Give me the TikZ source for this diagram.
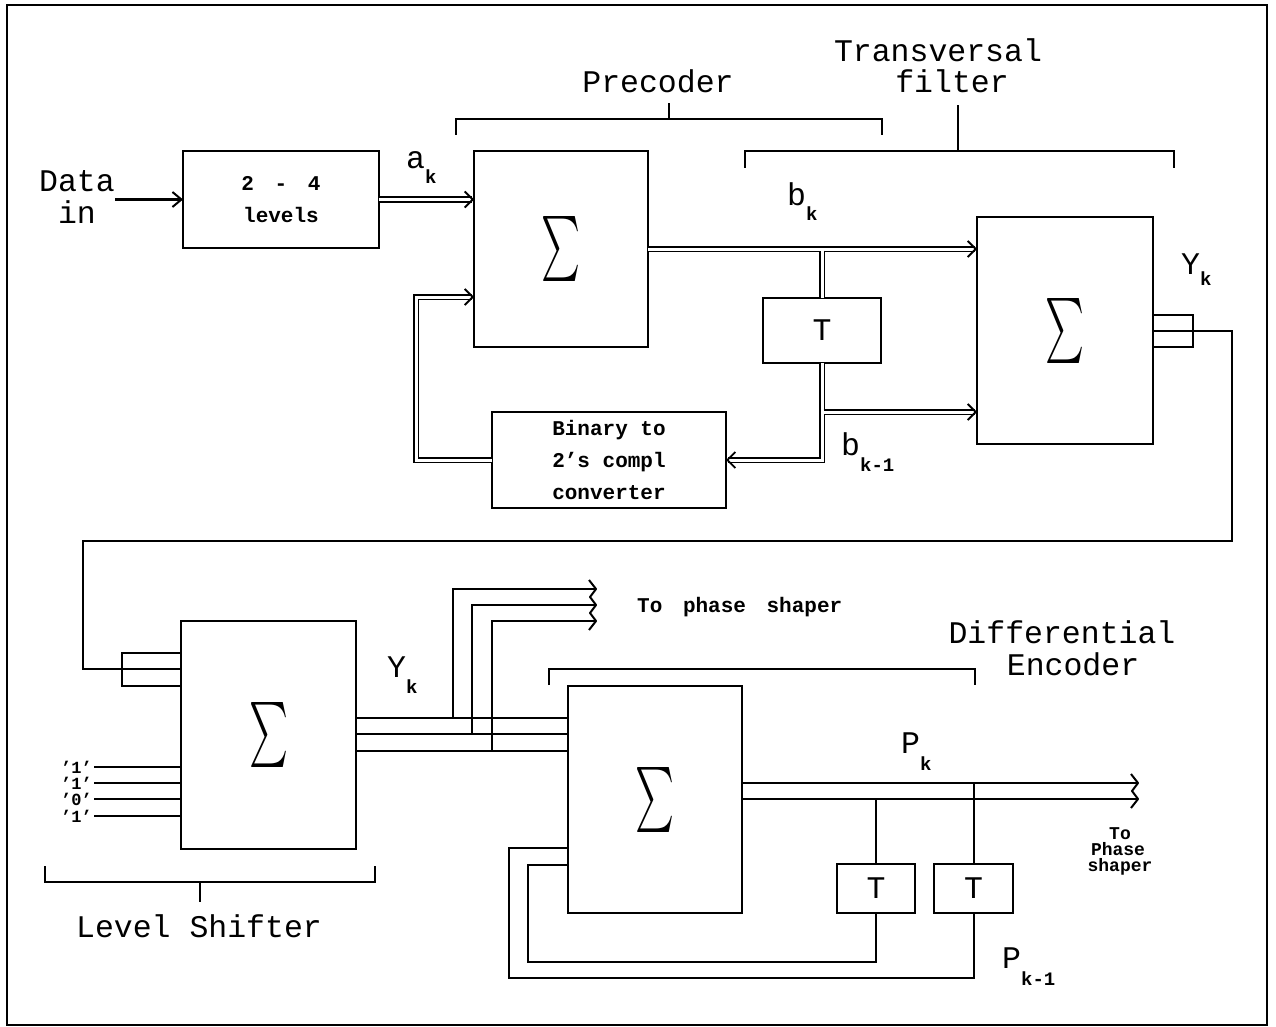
\documentclass[tikz,border=0pt]{standalone}
\usepackage{fontspec}
\usepackage{graphicx}
\setmainfont{Liberation Mono}
\usetikzlibrary{arrows.meta,calc}
\newcommand\sigm{\resizebox*{39pt}{65pt}{$\sum$}}
\newcommand\subsc[2]{\raisebox{-#2pt}{\fontsize{19}{19}\selectfont\bfseries #1}}
\begin{document}
\begin{tikzpicture}[x=1pt,y=-1pt,
  blk/.style={draw, line width=2pt, inner sep=0pt, outer sep=0pt},
  wire/.style={line width=2pt},
  dbl/.style={double, double distance=3pt, line width=1.8pt},
  dbla/.style={dbl, -{Straight Barb[length=8pt,width=16pt,line width=1.8pt]}},
  sarr/.style={wire, -{Straight Barb[length=9pt,width=15pt]}},
  big/.style={font=\fontsize{31.5}{32}\selectfont, inner sep=0pt, anchor=base},
  small/.style={font=\fontsize{21}{32}\selectfont\bfseries, align=center},
  tiny/.style={font=\fontsize{18}{16}\selectfont\bfseries, inner sep=0pt, anchor=base},
  inl/.style={font=\fontsize{17}{16}\selectfont\bfseries, inner sep=0pt, anchor=base east},
  lab/.style={font=\fontsize{31.5}{32}\selectfont, inner sep=0pt, anchor=base west},
  tfont/.style={font=\fontsize{31.5}{32}\selectfont},
  chev/.style={wire, line join=round},
]
\useasboundingbox (0,0) rectangle (1276,1027);
\draw[line width=2.5pt] (7,5) rectangle (1267,1025);

% ---------- blocks ----------
\node[blk, minimum width=196pt, minimum height=97pt, small] (conv24) at (281,199.5) {2\hspace{8pt} -\hspace{8pt} 4\\levels};
\node[blk, minimum width=174pt, minimum height=196pt] (psum) at (561,249) {\sigm};
\node[blk, minimum width=118pt, minimum height=65pt, tfont] (pt) at (822,330.5) {T};
\node[blk, minimum width=234pt, minimum height=96pt, small] (bconv) at (609,460) {Binary to\\2’s compl\\converter};
\node[blk, minimum width=176pt, minimum height=227pt] (tsum) at (1065,330.5) {\sigm};
\node[blk, minimum width=175pt, minimum height=228pt] (lsum) at (268.5,735) {\sigm};
\node[blk, minimum width=174pt, minimum height=227pt] (dsum) at (655,799.5) {\sigm};
\node[blk, minimum width=78pt, minimum height=49pt, tfont] (dt1) at (876,888.5) {T};
\node[blk, minimum width=79pt, minimum height=49pt, tfont] (dt2) at (973.5,888.5) {T};

% ---------- texts ----------
\node[big] (dat) at (77,192) {Data};
\node[big] (din) at (77,223) {in};
\node[big] (prec) at (658,93) {Precoder};
\node[big] (trans) at (938,62) {Transversal};
\node[big] (filt) at (952,93) {filter};
\node[big] (lev) at (199,937) {Level Shifter};
\node[big] (diff) at (1062,643) {Differential};
\node[big] (enc) at (1073,675) {Encoder};
\node[font=\fontsize{21}{21}\selectfont\bfseries, inner sep=0pt, anchor=base west] (tps) at (637,612) {To\hspace{8pt} phase\hspace{8pt} shaper};
\node[tiny] (tpa) at (1120,839) {To};
\node[tiny] (tpb) at (1118,855) {Phase};
\node[tiny] (tpc) at (1120,871) {shaper};

\node[lab] (ak) at (406,168) {a\subsc{k}{15}};
\node[lab] (bk) at (787,205) {b\subsc{k}{15}};
\node[lab] (ykt) at (1181,274) {Y\subsc{k}{11}};
\node[lab] (ykl) at (387,677) {Y\subsc{k}{16}};
\node[lab] (pk) at (901,753) {P\subsc{k}{17}};
\node[lab] (bk1) at (841,455) {b\subsc{k-1}{16}};
\node[lab] (pk1) at (1002,968) {P\subsc{k-1}{17}};

\node[inl] (i1) at (92,773) {’1’};
\node[inl] (i2) at (92,789) {’1’};
\node[inl] (i3) at (92,805) {’0’};
\node[inl] (i4) at (92,822) {’1’};
\foreach \n in {i1,i2,i3,i4} \draw[wire] ([xshift=2pt]\n.east) -- (lsum.west |- \n.east);

% ---------- brackets ----------
\draw[wire] (456,135) -- (456,119) -- (882,119) -- (882,135);
\draw[wire] (669,119) -- (669,103);
\draw[wire] (745,168) -- (745,151) -- (1174,151) -- (1174,168);
\draw[wire] (958,151) -- (958,105);
\draw[wire] (45,866) -- (45,882) -- (375,882) -- (375,866);
\draw[wire] (200,882) -- (200,902);
\draw[wire] (549,685) -- (549,669) -- (975,669) -- (975,685);

% ---------- upper connectors ----------
\draw[sarr] (dat.east |- conv24.west) -- (conv24.west);
\draw[dbla] (conv24.east) -- (psum.west |- conv24.east);
\draw[dbla] (psum.east) -- (tsum.west |- psum.east);
\coordinate (j1) at ($(pt.north |- psum.east)+(0,1.5)$);
\draw[dbl] (j1) -- (pt.north);
\coordinate (j3) at (pt.south |- bconv.east);
\draw[dbla] (pt.south) -- (j3) -- (bconv.east);
\coordinate (j2) at (823.5,412);
\draw[dbla] (j2) -- (tsum.west |- j2);
\coordinate (fb) at (416,297);
\draw[dbla] (bconv.west) -| (fb) -- (psum.west |- fb);

% transversal output
\draw[wire] (tsum.east |- 0,315) -- ++(40,0) -- ++(0,32) -- ++(-40,0);
\coordinate (r1) at (1232,541);
\coordinate (l1) at (83,541);
\coordinate (lin) at (lsum.west |- 0,669);
\draw[wire] (tsum.east) -| (r1) -- (l1) |- (lin);
\draw[wire] (lsum.west |- 0,653) -- ++(-59,0) -- ++(0,33) -- ++(59,0);

% ---------- lower connectors ----------
\foreach \i/\y/\bx/\ty in {1/718/453/589, 2/734/472/605, 3/751/492/621} {
  \coordinate (bs\i) at (\bx,\y);
  \coordinate (ps\i) at (596,\ty);
  \draw[wire] (lsum.east |- bs\i) -- (dsum.west |- bs\i);
  \draw[wire] (bs\i) |- (ps\i);
}
\draw[chev] (589,580) -- (ps1) -- (590,597) -- (ps2) -- (590,613) -- (ps3) -- (589,630);

\coordinate (po1) at (1138,783);
\coordinate (po2) at (1138,799);
\draw[wire] (dsum.east |- po1) -- (po1);
\draw[wire] (dsum.east |- po2) -- (po2);
\draw[chev] (1131,774) -- (po1) -- (1132,791) -- (po2) -- (1131,808);
\draw[wire] (dt1.north |- po2) -- (dt1.north);
\draw[wire] (dt2.north |- po1) -- (dt2.north);
\coordinate (il) at (528,962);
\coordinate (ol) at (509,978);
\draw[wire] (dt1.south) |- (il) |- (dsum.west |- 0,865);
\draw[wire] (dt2.south) |- (ol) |- (dsum.west |- 0,848);
\end{tikzpicture}
\end{document}
